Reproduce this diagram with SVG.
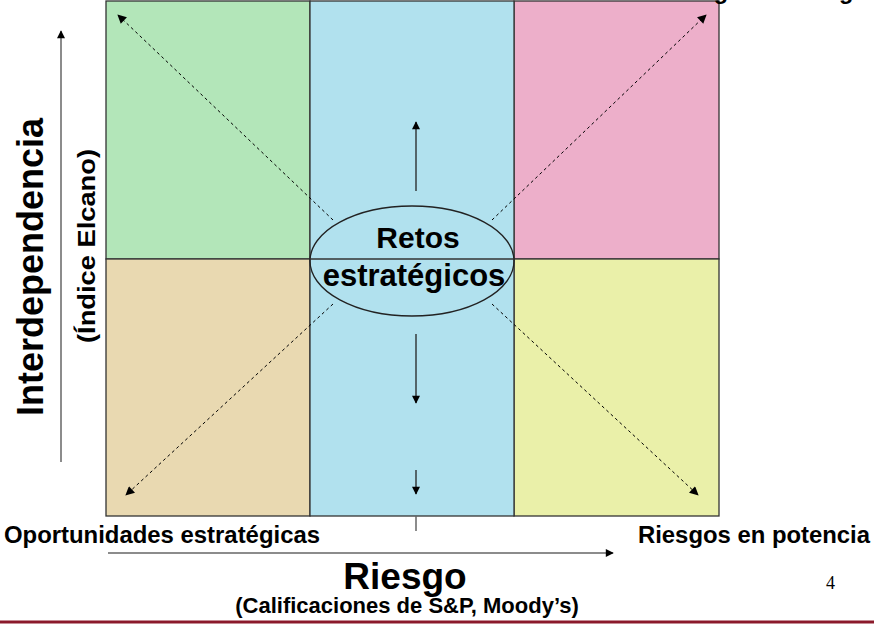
<svg xmlns="http://www.w3.org/2000/svg" width="874" height="624" viewBox="0 0 874 624">
<defs>
<marker id="ah" viewBox="0 0 10 10" refX="9" refY="5" markerWidth="9" markerHeight="8" markerUnits="userSpaceOnUse" orient="auto">
<path d="M0,0 L10,5 L0,10 z" fill="#000"/>
</marker>
<marker id="ahd" viewBox="0 0 10 10" refX="9" refY="5" markerWidth="11" markerHeight="9" markerUnits="userSpaceOnUse" orient="auto">
<path d="M0,0 L10,5 L0,10 z" fill="#000"/>
</marker>
<style>
.cell{stroke:#333;stroke-width:1.3}
.t{font-family:"Liberation Sans",Arial,sans-serif;font-weight:bold;fill:#000}
.dash{stroke:#000;stroke-width:1;stroke-dasharray:3,3;fill:none}
.solid{stroke:#222;stroke-width:1.3;fill:none}
.axis{stroke:#666;stroke-width:1.5;fill:none}
</style>
</defs>
<rect width="874" height="624" fill="#fff"/>
<g id="quadrants">
<g id="q-top-left"><rect class="cell" x="106" y="1" width="204" height="258" fill="#b3e6b9"/></g>
<g id="q-bottom-left"><rect class="cell" x="106" y="259" width="204" height="257" fill="#e9d9b1"/></g>
<g id="q-top-right"><rect class="cell" x="514" y="1" width="205" height="258" fill="#edafca"/></g>
<g id="q-bottom-right"><rect class="cell" x="514" y="259" width="205" height="257" fill="#eaf0a9"/></g>
<g id="q-middle"><rect class="cell" x="310" y="1" width="204" height="515" fill="#b1e1ee"/></g>
</g>
<g id="connectors">
<line class="dash" x1="333" y1="220" x2="118" y2="15" marker-end="url(#ahd)"/>
<line class="dash" x1="492" y1="220" x2="706" y2="15" marker-end="url(#ahd)"/>
<line class="dash" x1="333" y1="304" x2="126" y2="495" marker-end="url(#ahd)"/>
<line class="dash" x1="492" y1="304" x2="698" y2="495" marker-end="url(#ahd)"/>
<line class="solid" x1="416" y1="191" x2="416" y2="122" marker-end="url(#ah)"/>
<line class="solid" x1="416" y1="334" x2="416" y2="403" marker-end="url(#ah)"/>
<line class="solid" x1="416" y1="470" x2="416" y2="494" marker-end="url(#ah)"/>
<line class="axis" x1="416" y1="516" x2="416" y2="531"/>
<line class="axis" x1="61" y1="462" x2="61" y2="31" marker-end="url(#ah)"/>
<line class="axis" x1="108" y1="553" x2="613" y2="553" marker-end="url(#ah)"/>
</g>
<g id="retos">
<ellipse cx="412" cy="261" rx="102" ry="55" fill="none" stroke="#222" stroke-width="1.3"/>
<line x1="310" y1="259" x2="514" y2="259" stroke="#333" stroke-width="1.3"/>
<text class="t" x="418" y="248" font-size="30" text-anchor="middle">Retos</text>
<text class="t" x="414" y="286" font-size="31" text-anchor="middle">estratégicos</text>
</g>
<g id="labels">
<text class="t" x="664" y="-1" font-size="23.5">Riesgos estratégicos</text>
<text class="t" x="4" y="543" font-size="23" textLength="316" lengthAdjust="spacingAndGlyphs">Oportunidades estratégicas</text>
<text class="t" x="638" y="543" font-size="23" textLength="232" lengthAdjust="spacingAndGlyphs">Riesgos en potencia</text>
<text class="t" x="405" y="589" font-size="37" text-anchor="middle">Riesgo</text>
<text class="t" x="407" y="613" font-size="22" text-anchor="middle">(Calificaciones de S&amp;P, Moody’s)</text>
<text x="826" y="589" font-size="18" font-family="'Liberation Serif','Times New Roman',serif" fill="#000">4</text>
<text class="t" transform="translate(43,267) rotate(-90)" font-size="36" text-anchor="middle">Interdependencia</text>
<text class="t" transform="translate(95,246) rotate(-90)" font-size="24" text-anchor="middle" textLength="194" lengthAdjust="spacingAndGlyphs">(Índice Elcano)</text>
</g>
<line x1="0" y1="622" x2="874" y2="622" stroke="#8b1a2b" stroke-width="3"/>
</svg>
